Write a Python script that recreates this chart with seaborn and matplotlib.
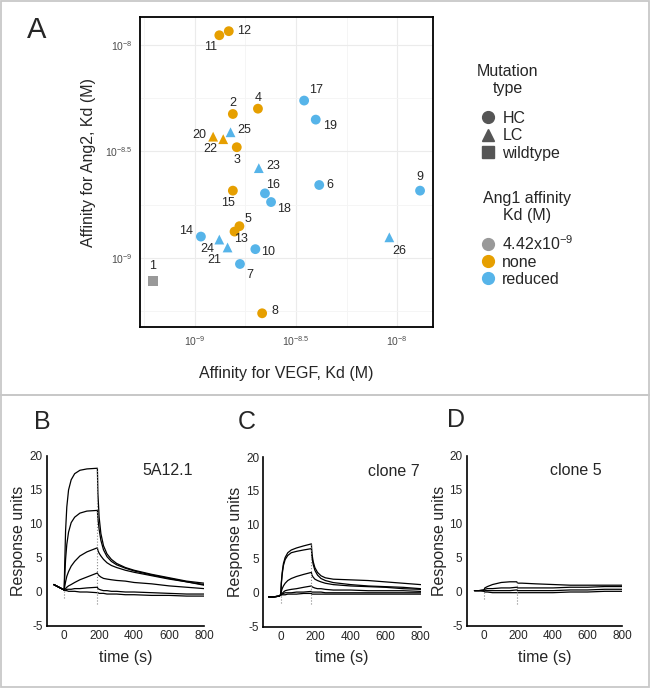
import numpy as np
import pandas as pd
import seaborn as sns
import matplotlib.pyplot as plt
from matplotlib.lines import Line2D
from matplotlib.patches import Rectangle
from matplotlib.ticker import FixedLocator, NullFormatter

# ---- panel A data: affinities (nM) ----
clone_ids = list(range(1, 27))
vegf_kd_nM = [0.619, 1.54, 1.61, 2.05, 1.66, 4.12, 1.67, 2.15, 13.0, 1.99,
              1.32, 1.47, 1.57, 1.07, 1.54, 2.22, 3.47, 2.38, 3.96, 1.23,
              1.45, 1.38, 2.07, 1.32, 1.50, 9.16]
ang2_kd_nM = [0.782, 4.74, 3.31, 5.02, 1.41, 2.20, 0.937, 0.550, 2.07, 1.10,
              11.1, 11.6, 1.33, 1.26, 2.07, 2.01, 5.48, 1.83, 4.46, 3.71,
              1.12, 3.61, 2.64, 1.22, 3.89, 1.25]
mutation_type = ['wildtype'] + ['HC'] * 18 + ['LC'] * 7
ang1_affinity = ['4.42x10$^{-9}$', 'none', 'none', 'none', 'none', 'reduced',
                 'reduced', 'none', 'reduced', 'reduced', 'none', 'none', 'none',
                 'reduced', 'none', 'reduced', 'reduced', 'reduced', 'reduced',
                 'none', 'reduced', 'none', 'reduced', 'reduced', 'reduced', 'reduced']

# label offsets (pixels, right / up) for the clone numbers
label_offsets = {1: (0, 15), 2: (0, 11), 3: (0, -13), 4: (0, 11), 5: (9, 7),
                 6: (11, 0), 7: (10, -11), 8: (13, 2), 9: (0, 14), 10: (13, -3),
                 11: (-9, -12), 12: (15, 0), 13: (6, -7), 14: (-15, 6), 15: (-5, -12),
                 16: (8, 8), 17: (12, 11), 18: (13, -7), 19: (14, -6), 20: (-14, 2),
                 21: (-13, -13), 22: (-13, -10), 23: (14, 2), 24: (-12, -9),
                 25: (14, 2), 26: (10, -14)}

mut_markers = {'HC': 'o', 'LC': '^', 'wildtype': 's'}
ang1_colors = {'4.42x10$^{-9}$': '#999999', 'none': '#E69F00', 'reduced': '#56B4E9'}

# ---- panels B-D: sensorgrams (response units) ----
time_b = [-60, -30, 0, 3, 8, 15, 25, 40, 60, 90, 130, 190,
          193, 200, 210, 225, 245, 270, 300, 350, 400, 500, 600, 700, 800]
ru_b = [
    [1.1, 0.7, 0.3, 4.0, 9.0, 12.5, 15.0, 16.5, 17.4, 17.9, 18.1, 18.2,
     14.5, 11.0, 8.6, 6.8, 5.6, 4.8, 4.2, 3.6, 3.2, 2.6, 2.1, 1.6, 1.3],
    [1.1, 0.7, 0.3, 2.2, 4.8, 7.0, 8.8, 10.2, 11.0, 11.6, 11.9, 12.0,
     10.8, 9.2, 7.6, 6.2, 5.2, 4.5, 4.0, 3.5, 3.1, 2.5, 2.0, 1.5, 1.1],
    [1.1, 0.7, 0.3, 0.8, 1.5, 2.3, 3.0, 3.8, 4.5, 5.3, 5.9, 6.5,
     6.1, 5.7, 5.3, 4.8, 4.3, 3.9, 3.6, 3.2, 2.9, 2.4, 1.9, 1.5, 1.0],
    [1.1, 0.7, 0.3, 0.4, 0.5, 0.7, 0.9, 1.1, 1.4, 1.8, 2.2, 2.8,
     2.6, 2.4, 2.2, 2.0, 1.9, 1.8, 1.7, 1.6, 1.4, 1.2, 0.9, 0.7, 0.5],
    [1.1, 0.7, 0.3, 0.3, 0.3, 0.4, 0.4, 0.4, 0.5, 0.5, 0.6, 0.7,
     0.5, 0.4, 0.3, 0.2, 0.2, 0.1, 0.1, 0.0, 0.0, -0.1, -0.2, -0.3, -0.3],
    [1.1, 0.7, 0.3, 0.3, 0.2, 0.2, 0.1, 0.1, 0.1, 0.0, 0.0, -0.1,
     -0.1, -0.2, -0.2, -0.2, -0.3, -0.3, -0.3, -0.4, -0.4, -0.5, -0.5, -0.6, -0.6],
]
time_c = [-70, -40, -10, 0, 3, 8, 15, 25, 40, 60, 90, 130, 175,
          178, 185, 195, 210, 230, 255, 300, 400, 500, 600, 700, 800]
ru_c = [
    [-0.6, -0.6, -0.5, -0.3, 1.5, 3.0, 4.3, 5.2, 5.9, 6.3, 6.6, 6.9, 7.2,
     5.8, 4.6, 3.7, 3.0, 2.5, 2.2, 2.0, 1.9, 1.8, 1.6, 1.4, 1.2],
    [-0.6, -0.6, -0.5, -0.3, 1.3, 2.7, 4.0, 4.9, 5.5, 5.9, 6.1, 6.3, 6.5,
     5.3, 4.2, 3.3, 2.6, 2.1, 1.8, 1.5, 1.2, 1.0, 0.9, 0.8, 0.6],
    [-0.6, -0.6, -0.5, -0.3, 0.2, 0.6, 1.0, 1.4, 1.8, 2.1, 2.4, 2.7, 3.0,
     2.6, 2.3, 2.0, 1.8, 1.6, 1.4, 1.2, 1.0, 0.9, 0.8, 0.6, 0.5],
    [-0.6, -0.6, -0.5, -0.3, -0.2, -0.1, 0.1, 0.3, 0.4, 0.5, 0.6, 0.8, 1.0,
     0.9, 0.8, 0.7, 0.6, 0.6, 0.5, 0.4, 0.4, 0.3, 0.3, 0.3, 0.2],
    [-0.6, -0.6, -0.5, -0.3, -0.3, -0.2, -0.1, 0.0, 0.0, 0.0, 0.1, 0.1, 0.2,
     0.1, 0.1, 0.1, 0.1, 0.1, 0.0, 0.0, 0.0, 0.0, 0.0, 0.0, 0.0],
    [-0.6, -0.6, -0.5, -0.3, -0.3, -0.3, -0.3, -0.3, -0.2, -0.2, -0.2, -0.1, -0.1,
     -0.2, -0.2, -0.2, -0.2, -0.2, -0.2, -0.2, -0.2, -0.2, -0.2, -0.2, -0.2],
]
time_d = [-55, -30, 0, 5, 20, 50, 100, 150, 190, 195, 220, 300, 400, 500, 600, 700, 800]
ru_d = [
    [0.2, 0.2, 0.3, 0.6, 0.8, 1.1, 1.4, 1.5, 1.5, 1.3, 1.3, 1.2, 1.1, 1.0, 1.0, 1.0, 1.0],
    [0.2, 0.2, 0.3, 0.4, 0.5, 0.5, 0.6, 0.6, 0.7, 0.6, 0.6, 0.6, 0.6, 0.7, 0.7, 0.8, 0.8],
    [0.2, 0.2, 0.2, 0.2, 0.2, 0.2, 0.2, 0.2, 0.3, 0.2, 0.2, 0.2, 0.2, 0.3, 0.3, 0.4, 0.4],
    [0.2, 0.2, 0.1, 0.0, 0.0, -0.1, -0.1, -0.1, -0.1, -0.1, -0.1, -0.1, -0.1, 0.0, 0.0, 0.1, 0.1],
]
inject_end = {'B': 190, 'C': 175, 'D': 190}
clone_names = {'B': '5A12.1', 'C': 'clone 7', 'D': 'clone 5'}

sns.set_style("white")
plt.rcParams['font.family'] = ['Liberation Sans', 'DejaVu Sans']
plt.rcParams['mathtext.fontset'] = 'custom'
plt.rcParams['mathtext.rm'] = 'Liberation Sans'
plt.rcParams['mathtext.default'] = 'regular'
plt.rcParams['axes.unicode_minus'] = False

W, H = 651, 688
fig = plt.figure(figsize=(W / 100, H / 100), dpi=100)


def px_box(l, t, r, b):
    return [l / W, 1 - b / H, (r - l) / W, (b - t) / H]


# panel frames
for top, bot in [(1, 395), (395, 687)]:
    fig.add_artist(Rectangle((1 / W, 1 - bot / H), 648 / W, (bot - top) / H,
                             transform=fig.transFigure, fill=False,
                             ec='#c8c8c8', lw=1.3))

# ---------------- panel A ----------------
axA = fig.add_axes(px_box(140, 17, 433, 327))
dfA = pd.DataFrame({'clone': clone_ids,
                    'vegf': np.array(vegf_kd_nM) * 1e-9,
                    'ang2': np.array(ang2_kd_nM) * 1e-9,
                    'mut': mutation_type,
                    'ang1': ang1_affinity})
sns.scatterplot(data=dfA, x='vegf', y='ang2', hue='ang1', style='mut',
                palette=ang1_colors, markers=mut_markers, s=50, linewidth=0,
                legend=False, ax=axA, zorder=3)
axA.set_xscale('log')
axA.set_yscale('log')
axA.set_xlim(10 ** -9.272, 10 ** -7.822)
axA.set_ylim(10 ** -9.324, 10 ** -7.869)
major = [1e-9, 10 ** -8.5, 1e-8]
major_lbl = ['$10^{-9}$', '$10^{-8.5}$', '$10^{-8}$']
minor = [10 ** -9.25, 10 ** -8.75, 10 ** -8.25]
for axis in (axA.xaxis, axA.yaxis):
    axis.set_major_locator(FixedLocator(major))
    axis.set_minor_locator(FixedLocator(minor))
    axis.set_minor_formatter(NullFormatter())
axA.set_xticklabels(major_lbl)
axA.set_yticklabels(major_lbl)
axA.grid(True, which='major', color='#ebebeb', lw=0.8)
axA.grid(True, which='minor', color='#f4f4f4', lw=0.6)
axA.tick_params(which='major', length=3, color='#555555', labelsize=7.5,
                labelcolor='#4d4d4d', pad=2)
axA.tick_params(which='minor', length=0)
for sp in axA.spines.values():
    sp.set_color('black')
    sp.set_linewidth(1.3)
axA.set_xlabel('Affinity for VEGF, Kd (M)', fontsize=11.5)
axA.set_ylabel('Affinity for Ang2, Kd (M)', fontsize=11.5)
axA.xaxis.set_label_coords(0.5, -0.125)
axA.yaxis.set_label_coords(-0.15, 0.53)

for cid, xv, yv in zip(dfA['clone'], dfA['vegf'], dfA['ang2']):
    axA.annotate(str(cid), (xv, yv), xytext=label_offsets[cid],
                 textcoords='offset pixels', ha='center', va='center',
                 fontsize=9, zorder=4)

# legends
fig.text(508 / W, 1 - 80 / H, 'Mutation\ntype', ha='center', va='center',
         fontsize=11.5, linespacing=1.2)
shape_handles = [Line2D([], [], ls='', marker=mut_markers[k], color='#555555',
                        markersize=8.5) for k in ['HC', 'LC', 'wildtype']]
fig.legend(shape_handles, ['HC', 'LC', 'wildtype'], loc='upper left',
           bbox_to_anchor=(480 / W, 1 - 111 / H), frameon=False,
           fontsize=11.5, borderpad=0, handlelength=1.0,
           handletextpad=0.4, labelspacing=0.15, borderaxespad=0)
fig.text(527 / W, 1 - 207 / H, 'Ang1 affinity\nKd (M)', ha='center',
         va='center', fontsize=11.5, linespacing=1.2)
color_keys = ['4.42x10$^{-9}$', 'none', 'reduced']
color_handles = [Line2D([], [], ls='', marker='o', color=ang1_colors[k],
                        markersize=8.5) for k in color_keys]
fig.legend(color_handles, color_keys, loc='upper left',
           bbox_to_anchor=(480 / W, 1 - 234 / H), frameon=False,
           fontsize=11.5, borderpad=0, handlelength=1.0,
           handletextpad=0.4, labelspacing=0.12, borderaxespad=0)

fig.text(37 / W, 1 - 30 / H, 'A', fontsize=21, ha='center', va='center')

# ---------------- panels B-D ----------------
panels = [('B', px_box(46.7, 456, 204, 626), time_b, ru_b, 0.77, (42, 422)),
          ('C', px_box(263.3, 457, 420.7, 626.7), time_c, ru_c, 0.83, (247, 422)),
          ('D', px_box(466.7, 456, 622, 626), time_d, ru_d, 0.70, (456, 420))]

for key, rect, times, curves, tx, letter_xy in panels:
    ax = fig.add_axes(rect)
    long = pd.concat([pd.DataFrame({'time': times, 'ru': c, 'curve': i})
                      for i, c in enumerate(curves)], ignore_index=True)
    sns.lineplot(data=long, x='time', y='ru', units='curve', estimator=None,
                 color='black', lw=0.9, ax=ax, sort=False)
    arr = np.array(curves)
    i0 = times.index(0)
    i1 = times.index(inject_end[key])
    ax.vlines(0, arr[:, i0].min() - 1.2, arr[:, i0].max(), colors='#888888',
              lw=0.8, ls=':')
    ax.vlines(inject_end[key], arr[:, i1].min() - 1.6, arr[:, i1].max(),
              colors='#888888', lw=0.8, ls=':')
    ax.set_xlim(-100, 800)
    ax.set_ylim(-5, 20)
    ax.set_xticks([0, 200, 400, 600, 800])
    ax.set_yticks([-5, 0, 5, 10, 15, 20])
    sns.despine(ax=ax)
    for sp in ('left', 'bottom'):
        ax.spines[sp].set_color('black')
        ax.spines[sp].set_linewidth(1.2)
    ax.tick_params(direction='in', length=3, width=1, labelsize=8.5, pad=3)
    ax.set_xlabel('time (s)', fontsize=11.5)
    ax.set_ylabel('Response units', fontsize=11.5)
    ax.xaxis.set_label_coords(0.5, -0.14)
    ax.yaxis.set_label_coords(-0.13, 0.5)
    ax.text(tx, 0.915, clone_names[key], transform=ax.transAxes, ha='center',
            va='center', fontsize=11.5)
    fig.text(letter_xy[0] / W, 1 - letter_xy[1] / H, key, fontsize=18,
             ha='center', va='center')

fig.savefig('out.png', dpi=100)
